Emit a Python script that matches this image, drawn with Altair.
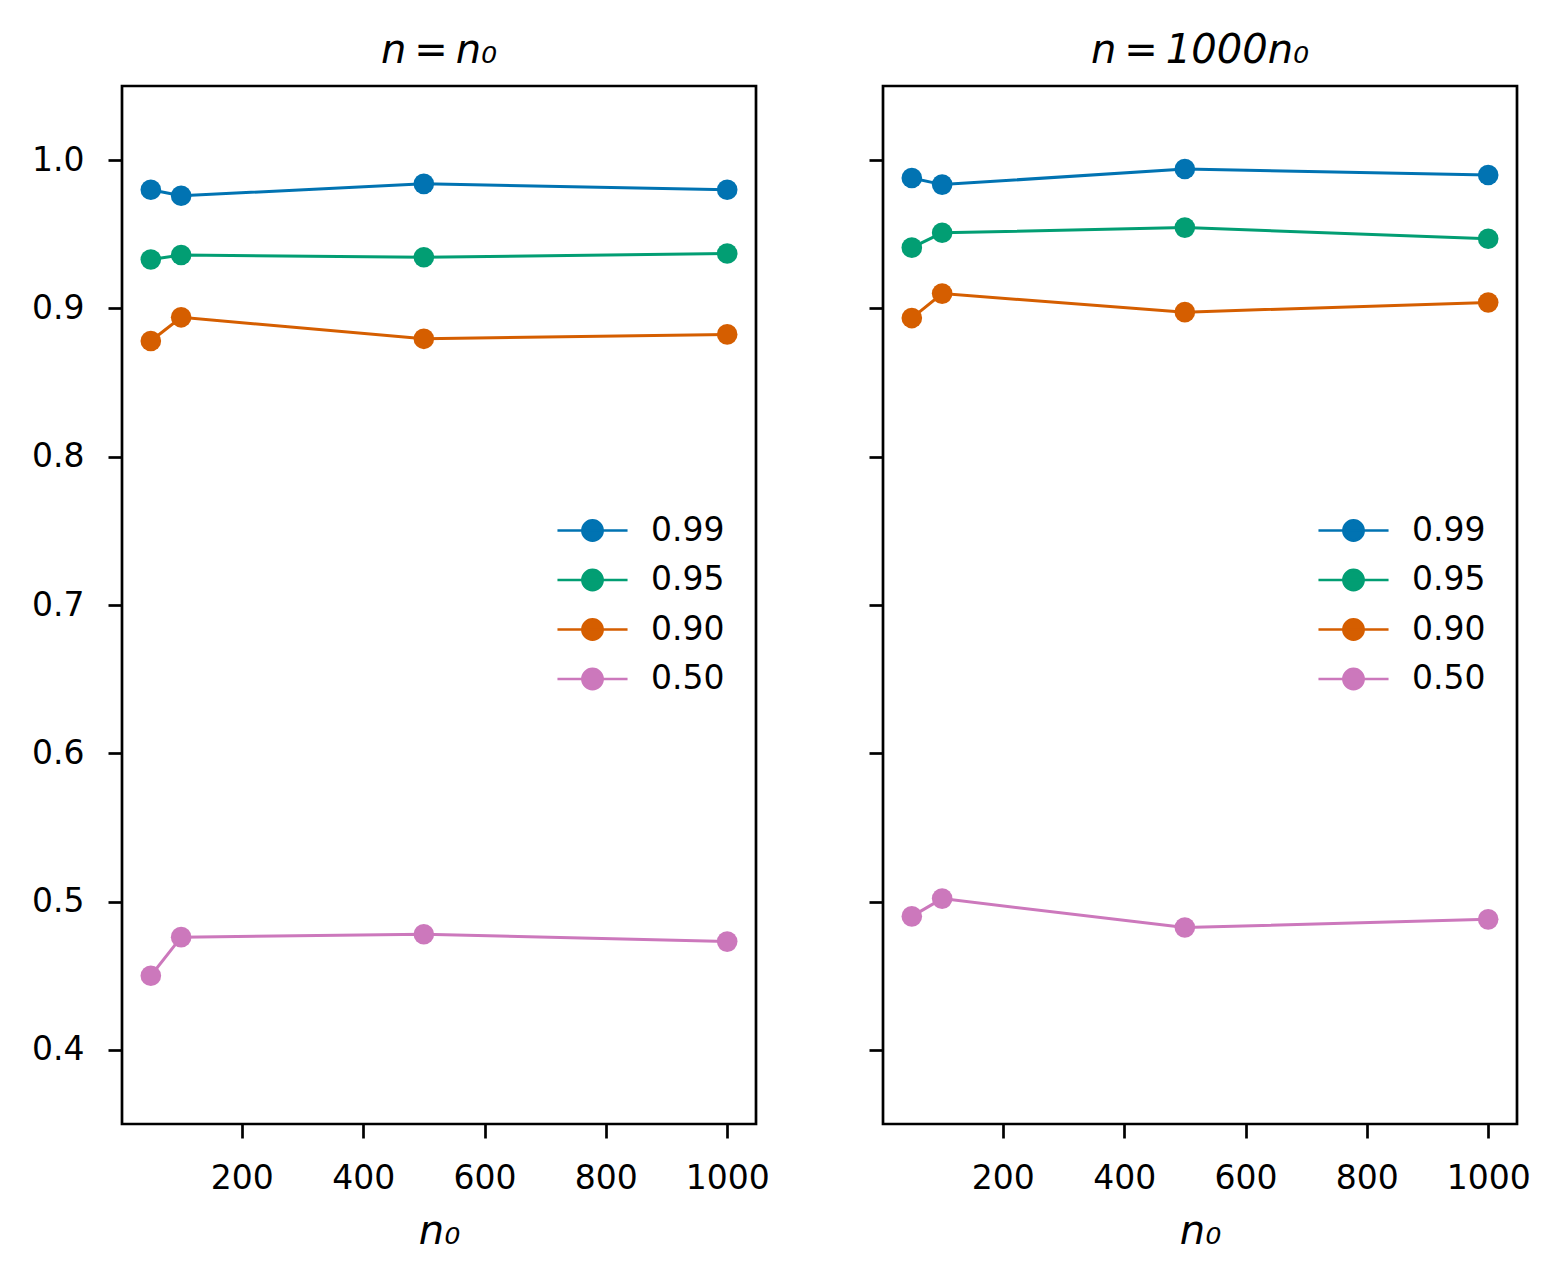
import altair as alt
import pandas as pd

n0 = [50, 100, 500, 1000]
levels = ["0.99", "0.95", "0.90", "0.50"]
colors = ["#0173B2", "#029E73", "#D55E00", "#CC78BC"]

left_099 = [0.980, 0.976, 0.984, 0.980]
left_095 = [0.933, 0.936, 0.9345, 0.937]
left_090 = [0.878, 0.894, 0.8795, 0.8825]
left_050 = [0.450, 0.476, 0.478, 0.473]

right_099 = [0.988, 0.9835, 0.994, 0.990]
right_095 = [0.941, 0.951, 0.9545, 0.947]
right_090 = [0.8935, 0.910, 0.8975, 0.904]
right_050 = [0.490, 0.502, 0.4825, 0.488]

x_ticks = [200, 400, 600, 800, 1000]
y_ticks = [0.4, 0.5, 0.6, 0.7, 0.8, 0.9, 1.0]

titles = ["n\u2009=\u2009n\u2080", "n\u2009=\u20091000n\u2080"]
x_title = "n\u2080"

FONT = "DejaVu Sans"
# legend handle: a line with a dot in the middle (unit = sqrt(size)/2 px)
SYMBOL = "M-1.46,0L1.46,0M-0.42,0A0.42,0.42,0,1,0,0.42,0A0.42,0.42,0,1,0,-0.42,0Z"


def make_df(series):
    rows = []
    for lvl, vals in zip(levels, series):
        for x, v in zip(n0, vals):
            rows.append({"n0": x, "value": v, "level": lvl})
    return pd.DataFrame(rows)


def panel(series, title, show_labels):
    df = make_df(series)
    base = alt.Chart(df).encode(
        x=alt.X(
            "n0:Q",
            scale=alt.Scale(domain=[2.5, 1047.5], nice=False, zero=False),
            axis=alt.Axis(values=x_ticks, title=x_title, format="d"),
        ),
        y=alt.Y(
            "value:Q",
            scale=alt.Scale(domain=[0.35, 1.05], nice=False, zero=False),
            axis=alt.Axis(values=y_ticks, title=None, format=".1f", labels=show_labels),
        ),
        color=alt.Color(
            "level:N",
            scale=alt.Scale(domain=levels, range=colors),
            sort=levels,
            legend=alt.Legend(
                title=None,
                orient="none",
                legendX=445,
                legendY=419,
                symbolType=SYMBOL,
                symbolSize=2304,
                symbolStrokeWidth=2.7,
                labelFontSize=33,
                labelFont=FONT,
                labelColor="black",
                labelOffset=33,
                rowPadding=6.5,
                padding=0,
            ),
        ),
    )
    line = base.mark_line(strokeWidth=3)
    pts = base.mark_circle(size=425, opacity=1)
    return alt.layer(line, pts).properties(
        width=634,
        height=1038,
        title=alt.TitleParams(
            text=title,
            font=FONT,
            fontSize=40,
            fontStyle="italic",
            fontWeight="normal",
            color="black",
            frame="group",
            anchor="middle",
            baseline="alphabetic",
            offset=-17,
        ),
    )


left = panel([left_099, left_095, left_090, left_050], titles[0], True)
right = panel([right_099, right_095, right_090, right_050], titles[1], False)

chart = (
    alt.hconcat(left, right, spacing=127, bounds="flush")
    .resolve_scale(color="independent")
    .resolve_legend(color="independent")
    .properties(padding={"left": 22, "top": 21, "right": 10, "bottom": 10}, background="white")
    .configure_view(stroke="black", strokeWidth=2.7)
    .configure_axis(
        domain=False,
        grid=False,
        ticks=True,
        tickColor="black",
        tickWidth=2.7,
        tickSize=14,
        labelFont=FONT,
        labelFontSize=33,
        labelColor="black",
        labelPadding=24,
        titleFont=FONT,
        titleFontSize=40,
        titleFontStyle="italic",
        titleFontWeight="normal",
        titleColor="black",
        titlePadding=16,
    )
)

chart.save("out.html", embed_options={"renderer": "svg", "actions": False})
